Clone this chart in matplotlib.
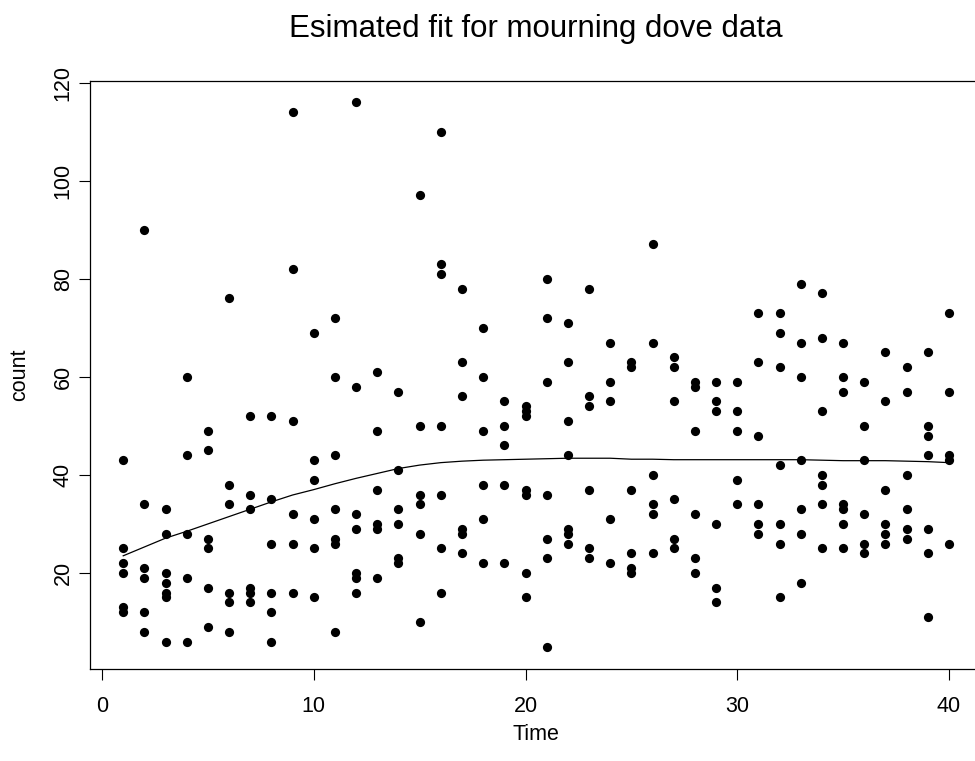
import matplotlib
matplotlib.use("Agg")
import matplotlib.pyplot as plt

plt.rcParams['font.family'] = ['Liberation Sans', 'DejaVu Sans']

# ---- data ----
time_values = [1, 2, 3, 4, 5, 6, 7, 8, 9, 10,
               11, 12, 13, 14, 15, 16, 17, 18, 19, 20,
               21, 22, 23, 24, 25, 26, 27, 28, 29, 30,
               31, 32, 33, 34, 35, 36, 37, 38, 39, 40]

counts_by_time = [
    [43, 25, 22, 20, 13, 12],
    [90, 34, 21, 19, 12, 8],
    [33, 28, 20, 18, 16, 15, 6],
    [60, 44, 28, 19, 6],
    [49, 45, 27, 25, 17, 9],
    [76, 38, 34, 16, 14, 8],
    [52, 36, 33, 17, 16, 14],
    [52, 35, 26, 16, 12, 6],
    [114, 82, 51, 32, 26, 16],
    [69, 43, 39, 31, 25, 15],
    [72, 60, 44, 33, 27, 26, 8],
    [116, 58, 32, 29, 20, 19, 16],
    [61, 49, 37, 30, 29, 19],
    [57, 41, 33, 30, 23, 22],
    [97, 50, 36, 34, 28, 10],
    [110, 83, 81, 50, 36, 25, 16],
    [78, 63, 56, 29, 28, 24],
    [70, 60, 49, 38, 31, 22],
    [55, 50, 46, 38, 22],
    [54, 53, 52, 37, 36, 20, 15],
    [80, 72, 59, 36, 27, 23, 5],
    [71, 63, 51, 44, 29, 28, 26],
    [78, 56, 54, 37, 25, 23],
    [67, 59, 55, 31, 22],
    [63, 62, 37, 24, 21, 20],
    [87, 67, 40, 34, 32, 24],
    [64, 62, 55, 35, 27, 25],
    [59, 58, 49, 32, 23, 20],
    [59, 55, 53, 30, 17, 14],
    [59, 53, 49, 39, 34],
    [73, 63, 48, 34, 30, 28],
    [73, 69, 62, 42, 30, 26, 15],
    [79, 67, 60, 43, 33, 28, 18],
    [77, 68, 53, 40, 38, 34, 25],
    [67, 60, 57, 34, 33, 30, 25],
    [59, 50, 43, 32, 26, 24],
    [65, 55, 37, 30, 28, 26],
    [62, 57, 40, 33, 29, 27],
    [65, 50, 48, 44, 29, 24, 11],
    [73, 57, 44, 43, 26],
]

fitted_values = [23.5, 25.3, 27.1, 28.5, 30.0, 31.5, 33.0, 34.5, 35.9, 37.0,
                 38.2, 39.3, 40.3, 41.3, 42.0, 42.5, 42.8, 43.0, 43.1, 43.2,
                 43.3, 43.4, 43.4, 43.4, 43.2, 43.2, 43.1, 43.1, 43.1, 43.1,
                 43.1, 43.1, 43.1, 43.0, 42.9, 42.9, 42.9, 42.8, 42.7, 42.5]

x_ticks = [0, 10, 20, 30, 40]
y_ticks = [20, 40, 60, 80, 100, 120]

title_text = "Esimated fit for mourning dove data"
x_label = "Time"
y_label = "count"

# ---- figure ----
W, H = 975, 761
fig = plt.figure(figsize=(W / 100, H / 100), dpi=100)
left, right, top, bottom = 90.4, 982.0, 80.7, 669.3
ax = fig.add_axes([left / W, 1 - bottom / H, (right - left) / W, (bottom - top) / H])

for t, vals in zip(time_values, counts_by_time):
    ax.scatter([t] * len(vals), vals, s=44, color='black', linewidths=0, zorder=3)

ax.plot(time_values, fitted_values, color='black', lw=0.9, zorder=2)

ax.set_xlim(-0.55, 41.56)
ax.set_ylim(0.35, 120.4)
ax.set_xticks(x_ticks)
ax.set_yticks(y_ticks)
ax.set_xticklabels([str(v) for v in x_ticks])
ax.set_yticklabels([str(v) for v in y_ticks], rotation=90, va='center')

ax.tick_params(axis='both', direction='out', length=8, width=0.8,
               labelsize=15.5, colors='black')
ax.tick_params(axis='x', pad=11)
ax.tick_params(axis='y', pad=4)

for sp in ax.spines.values():
    sp.set_linewidth(0.9)
    sp.set_color('black')

fig.text(536 / W, 1 - 36.7 / H, title_text, ha='center', va='baseline',
         fontsize=22.5, color='black')
fig.text(536 / W, 1 - 735 / H, x_label, ha='center', va='center',
         fontsize=15.5, color='black')
fig.text(20 / W, 1 - 375 / H, y_label, ha='center', va='center',
         rotation=90, fontsize=15.5, color='black')

fig.savefig('out.png', dpi=100)
